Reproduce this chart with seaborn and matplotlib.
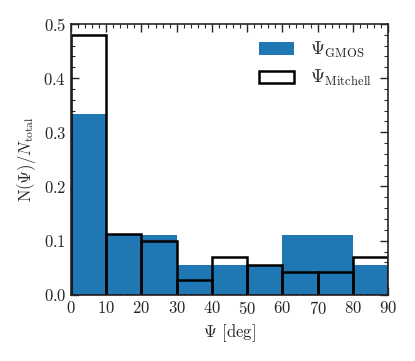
import numpy as np
import seaborn as sns
import matplotlib.pyplot as plt
from matplotlib.patches import Patch
from matplotlib.ticker import MultipleLocator

# fraction of objects per 10 deg bin of Psi
bin_edges = [0, 10, 20, 30, 40, 50, 60, 70, 80, 90]
bin_centers = [5, 15, 25, 35, 45, 55, 65, 75, 85]
frac_gmos = [0.333, 0.111, 0.111, 0.056, 0.056, 0.056, 0.111, 0.111, 0.056]
frac_mitchell = [0.479, 0.113, 0.099, 0.028, 0.070, 0.056, 0.042, 0.042, 0.070]

sns.set_style('ticks')
plt.rcParams['font.family'] = 'serif'
plt.rcParams['font.serif'] = ['cmr10', 'DejaVu Serif']
plt.rcParams['mathtext.fontset'] = 'cm'
plt.rcParams['axes.formatter.use_mathtext'] = True
plt.rcParams['font.size'] = 12

fig, ax = plt.subplots(figsize=(4.15, 3.61), dpi=100)
fig.subplots_adjust(left=0.171, right=0.935, top=0.934, bottom=0.183)

sns.histplot(x=bin_centers, weights=frac_gmos, bins=bin_edges, element='bars',
             color='#1f77b4', alpha=1, linewidth=0, ax=ax)
sns.histplot(x=bin_centers, weights=frac_mitchell, bins=bin_edges, element='bars',
             fill=False, color='black', linewidth=1.8, ax=ax)

ax.set_xlim(0, 90)
ax.set_ylim(0, 0.5)
ax.xaxis.set_major_locator(MultipleLocator(10))
ax.xaxis.set_minor_locator(MultipleLocator(2))
ax.yaxis.set_major_locator(MultipleLocator(0.1))
ax.yaxis.set_minor_locator(MultipleLocator(0.02))
ax.tick_params(which='both', direction='in', top=True, right=True, labelsize=12)
ax.tick_params(which='major', length=6, width=1)
ax.tick_params(which='minor', length=3, width=0.8)
for s in ax.spines.values():
    s.set_linewidth(1.2)
    s.set_zorder(5)

ax.set_xlabel(r'$\Psi$ [deg]', fontsize=12)
ax.set_ylabel(r'N$(\Psi)/N_{\rm total}$', fontsize=12)

handles = [Patch(facecolor='#1f77b4', edgecolor='none'),
           Patch(facecolor='white', edgecolor='black', linewidth=1.8)]
ax.legend(handles, [r'$\Psi_{\rm GMOS}$', r'$\Psi_{\rm Mitchell}$'],
          loc='upper right', frameon=False, fontsize=13, handlelength=1.9,
          handleheight=0.7, handletextpad=0.9, labelspacing=0.45)

plt.savefig('out.png', dpi=100)
